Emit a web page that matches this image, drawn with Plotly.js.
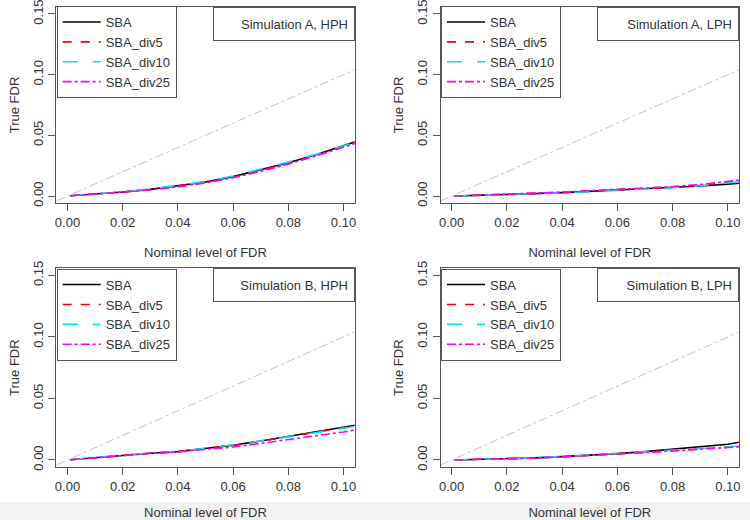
<!DOCTYPE html>
<html>
<head>
<meta charset="utf-8">
<script src="https://cdn.plot.ly/plotly-3.0.1.min.js"></script>
<style>html,body{margin:0;padding:0;background:#fff;}#chart{width:750px;height:520px;}</style>
</head>
<body>
<div id="chart"></div>
<script>
// Nominal FDR levels (x) at which values were read
const nominal = [0.001, 0.01, 0.02, 0.03, 0.04, 0.05, 0.06, 0.07, 0.08, 0.09, 0.10, 0.105];
const seriesNames = ["SBA", "SBA_div5", "SBA_div10", "SBA_div25"];
const panelTitles = ["Simulation A, HPH", "Simulation A, LPH", "Simulation B, HPH", "Simulation B, LPH"];
const diagonal = [-0.01, 0.12];
const xTicks = [0, 0.02, 0.04, 0.06, 0.08, 0.10];
const xTickText = ["0.00", "0.02", "0.04", "0.06", "0.08", "0.10"];
const yTicks = [0, 0.05, 0.10, 0.15];
const yTickText = ["0.00", "0.05", "0.10", "0.15"];

// Simulation A, HPH
const aHPH_SBA   = [0.0003, 0.0015, 0.0033, 0.0055, 0.0082, 0.0115, 0.0160, 0.0215, 0.0275, 0.0340, 0.0410, 0.0452];
const aHPH_div5  = [0.0003, 0.0015, 0.0033, 0.0054, 0.0080, 0.0112, 0.0155, 0.0210, 0.0270, 0.0335, 0.0405, 0.0445];
const aHPH_div10 = [0.0003, 0.0016, 0.0035, 0.0058, 0.0086, 0.0120, 0.0165, 0.0220, 0.0280, 0.0345, 0.0410, 0.0448];
const aHPH_div25 = [0.0003, 0.0014, 0.0032, 0.0051, 0.0075, 0.0108, 0.0150, 0.0203, 0.0263, 0.0330, 0.0400, 0.0438];
// Simulation A, LPH
const aLPH_SBA   = [0.0000, 0.0005, 0.0012, 0.0020, 0.0028, 0.0038, 0.0048, 0.0058, 0.0068, 0.0083, 0.0098, 0.0107];
const aLPH_div5  = [0.0000, 0.0005, 0.0013, 0.0022, 0.0030, 0.0040, 0.0050, 0.0060, 0.0072, 0.0090, 0.0112, 0.0125];
const aLPH_div10 = [0.0000, 0.0005, 0.0012, 0.0019, 0.0027, 0.0036, 0.0046, 0.0056, 0.0068, 0.0085, 0.0105, 0.0120];
const aLPH_div25 = [0.0000, 0.0006, 0.0014, 0.0024, 0.0033, 0.0043, 0.0053, 0.0065, 0.0078, 0.0095, 0.0118, 0.0135];
// Simulation B, HPH
const bHPH_SBA   = [0.0002, 0.0020, 0.0040, 0.0055, 0.0068, 0.0092, 0.0120, 0.0155, 0.0192, 0.0228, 0.0265, 0.0285];
const bHPH_div5  = [0.0002, 0.0020, 0.0040, 0.0055, 0.0068, 0.0090, 0.0118, 0.0153, 0.0190, 0.0225, 0.0260, 0.0280];
const bHPH_div10 = [0.0002, 0.0021, 0.0041, 0.0056, 0.0070, 0.0095, 0.0122, 0.0155, 0.0188, 0.0222, 0.0258, 0.0275];
const bHPH_div25 = [0.0002, 0.0020, 0.0040, 0.0054, 0.0066, 0.0085, 0.0105, 0.0135, 0.0165, 0.0195, 0.0228, 0.0248];
// Simulation B, LPH
const bLPH_SBA   = [0.0000, 0.0004, 0.0008, 0.0017, 0.0027, 0.0038, 0.0052, 0.0068, 0.0087, 0.0108, 0.0128, 0.0148];
const bLPH_div5  = [0.0000, 0.0004, 0.0008, 0.0016, 0.0026, 0.0037, 0.0050, 0.0062, 0.0075, 0.0090, 0.0105, 0.0110];
const bLPH_div10 = [0.0000, 0.0004, 0.0009, 0.0018, 0.0028, 0.0040, 0.0055, 0.0065, 0.0078, 0.0093, 0.0108, 0.0115];
const bLPH_div25 = [0.0000, 0.0004, 0.0008, 0.0016, 0.0025, 0.0036, 0.0049, 0.0061, 0.0073, 0.0088, 0.0103, 0.0108];

const panels = [
  [aHPH_SBA, aHPH_div5, aHPH_div10, aHPH_div25],
  [aLPH_SBA, aLPH_div5, aLPH_div10, aLPH_div25],
  [bHPH_SBA, bHPH_div5, bHPH_div10, bHPH_div25],
  [bLPH_SBA, bLPH_div5, bLPH_div10, bLPH_div25]
];

const styles = [
  {color: "#000000", dash: "solid"},
  {color: "#ff0000", dash: "dash"},
  {color: "#00e5ee", dash: "longdash"},
  {color: "#ff00ff", dash: "dashdot"}
];

const FONT = "Liberation Sans, Arial, Helvetica, sans-serif";
const xDomains = [[0.0753, 0.4727], [0.5875, 0.9853], [0.0753, 0.4727], [0.5875, 0.9853]];
const yDomains = [[0.6090, 0.9871], [0.6090, 0.9871], [0.1012, 0.4846], [0.1012, 0.4846]];
const legendPos = [[0.0756, 0.9885], [0.5880, 0.9885], [0.0756, 0.4835], [0.5880, 0.4835]];

const traces = [];
const layout = {
  width: 750, height: 520,
  margin: {l: 0, r: 0, t: 0, b: 0},
  paper_bgcolor: "#ffffff", plot_bgcolor: "#ffffff",
  font: {family: FONT, size: 13, color: "#333333"},
  showlegend: true,
  annotations: [],
  shapes: [{type: "rect", xref: "paper", yref: "paper", x0: 0, x1: 1, y0: 0, y1: 0.034,
            fillcolor: "#f1f1f1", line: {width: 0}, layer: "below"}]
};

panels.forEach((series, p) => {
  const n = p + 1;
  const xa = n === 1 ? "x" : "x" + n;
  const ya = n === 1 ? "y" : "y" + n;
  const lg = n === 1 ? "legend" : "legend" + n;
  // reference y = x line
  traces.push({x: diagonal, y: diagonal, xaxis: xa, yaxis: ya, mode: "lines",
    line: {color: "#c4c4c4", width: 1, dash: "dashdot"}, showlegend: false, hoverinfo: "skip"});
  series.forEach((vals, i) => {
    traces.push({x: nominal, y: vals, xaxis: xa, yaxis: ya, mode: "lines", name: seriesNames[i],
      legend: lg, line: {color: styles[i].color, width: 1.6, dash: styles[i].dash}});
  });
  const axBase = {showgrid: false, zeroline: false, showline: true, mirror: true,
    linecolor: "#555555", linewidth: 1, ticks: "outside", ticklen: 7, tickcolor: "#555555",
    tickfont: {family: FONT, size: 13, color: "#333333"}, automargin: false, fixedrange: true,
    ticklabeloverflow: "allow"};
  layout[n === 1 ? "xaxis" : "xaxis" + n] = Object.assign({}, axBase, {
    domain: xDomains[p], range: [-0.004, 0.104], anchor: ya,
    tickvals: xTicks, ticktext: xTickText,
    title: {text: "Nominal level of FDR", standoff: 18, font: {family: FONT, size: 13, color: "#333333"}}
  });
  layout[n === 1 ? "yaxis" : "yaxis" + n] = Object.assign({}, axBase, {
    domain: yDomains[p], range: [-0.006, 0.156], anchor: xa,
    tickvals: yTicks, ticktext: yTickText, tickangle: -90,
    title: {text: "True FDR", standoff: 8, font: {family: FONT, size: 13, color: "#333333"}}
  });
  layout[lg] = {
    x: legendPos[p][0], y: legendPos[p][1], xanchor: "left", yanchor: "top",
    xref: "paper", yref: "paper",
    bgcolor: "rgba(255,255,255,0)", bordercolor: "#555555", borderwidth: 1,
    font: {family: FONT, size: 13, color: "#333333"}, tracegroupgap: 0, itemwidth: 38
  };
  layout.annotations.push({
    xref: (n === 1 ? "x" : "x" + n) + " domain", yref: (n === 1 ? "y" : "y" + n) + " domain",
    x: 1, y: 1, xanchor: "right", yanchor: "top", showarrow: false,
    text: panelTitles[p], align: "right", width: 128, height: 20, borderpad: 6,
    bordercolor: "#555555", borderwidth: 1, bgcolor: "rgba(255,255,255,0)",
    font: {family: FONT, size: 13, color: "#333333"}
  });
});

Plotly.newPlot("chart", traces, layout, {staticPlot: true, displayModeBar: false});
</script>
</body>
</html>
